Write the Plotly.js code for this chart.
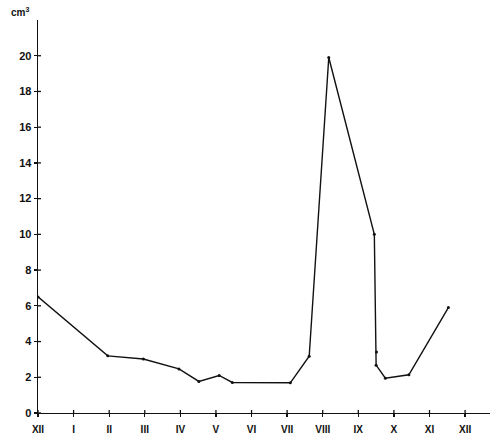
<!DOCTYPE html>
<html>
<head>
<meta charset="utf-8">
<script src="https://cdn.plot.ly/plotly-3.0.1.min.js"></script>
<style>html,body{margin:0;padding:0;background:#fff;}#chart{width:500px;height:446px;}</style>
</head>
<body>
<div id="chart"></div>
<script>
// Month position (XII = 0, I = 1, ... XII = 12) and volume in cm³
const monthPos = [0, 1.96, 2.96, 3.96, 4.52, 5.09, 5.46, 7.09, 7.62, 8.17, 9.45, 9.51, 9.50, 9.76, 10.42, 11.53];
const volume   = [6.5, 3.2, 3.02, 2.47, 1.77, 2.1, 1.71, 1.69, 3.18, 19.9, 10.0, 3.41, 2.68, 1.95, 2.14, 5.9];
const monthTickVals = [0,1,2,3,4,5,6,7,8,9,10,11,12];
const monthLabels = ["XII","I","II","III","IV","V","VI","VII","VIII","IX","X","XI","XII"];
const yTickVals = [0,2,4,6,8,10,12,14,16,18,20];

const shapes = [];
monthTickVals.forEach(v => shapes.push({type:'line', xref:'x', yref:'y', ysizemode:'pixel', yanchor:0, x0:v, x1:v, y0:0, y1:3, line:{color:'#111', width:1.3}}));
yTickVals.forEach(v => shapes.push({type:'line', xref:'x', yref:'y', xsizemode:'pixel', xanchor:0, y0:v, y1:v, x0:0, x1:3, line:{color:'#111', width:1.3}}));

const trace = {
  x: monthPos, y: volume, type:'scatter', mode:'lines+markers',
  line:{color:'#111', width:1.4},
  marker:{color:'#111', size:3},
  hoverinfo:'skip'
};

const layout = {
  width:500, height:446,
  margin:{l:38, r:10, t:19.5, b:32.7},
  paper_bgcolor:'#fff', plot_bgcolor:'#fff',
  showlegend:false,
  font:{family:'Liberation Sans, Arial, sans-serif', color:'#111'},
  xaxis:{
    range:[0,12.7], tickmode:'array', tickvals:monthTickVals, ticktext:monthLabels,
    ticks:'outside', ticklen:3, tickwidth:1.3, tickcolor:'#111', ticklabelstandoff:4,
    showline:true, linecolor:'#111', linewidth:1.4, showgrid:false, zeroline:false,
    tickfont:{size:10, family:'Liberation Sans, Arial, sans-serif', weight:'bold'},
    fixedrange:true
  },
  yaxis:{
    range:[0,22], tickmode:'array', tickvals:yTickVals,
    ticks:'outside', ticklen:3, tickwidth:1.3, tickcolor:'#111',
    showline:true, linecolor:'#111', linewidth:1.4, showgrid:false, zeroline:false,
    tickfont:{size:11, family:'Liberation Sans, Arial, sans-serif', weight:'bold'},
    fixedrange:true
  },
  shapes: shapes,
  annotations:[{
    text:'cm<sup>3</sup>', xref:'paper', yref:'paper', x:-0.015, y:1.0, xanchor:'right', yanchor:'bottom',
    showarrow:false, font:{size:10, family:'Liberation Sans, Arial, sans-serif', weight:'bold'}
  }]
};

Plotly.newPlot('chart', [trace], layout, {displayModeBar:false, staticPlot:true});
</script>
</body>
</html>
